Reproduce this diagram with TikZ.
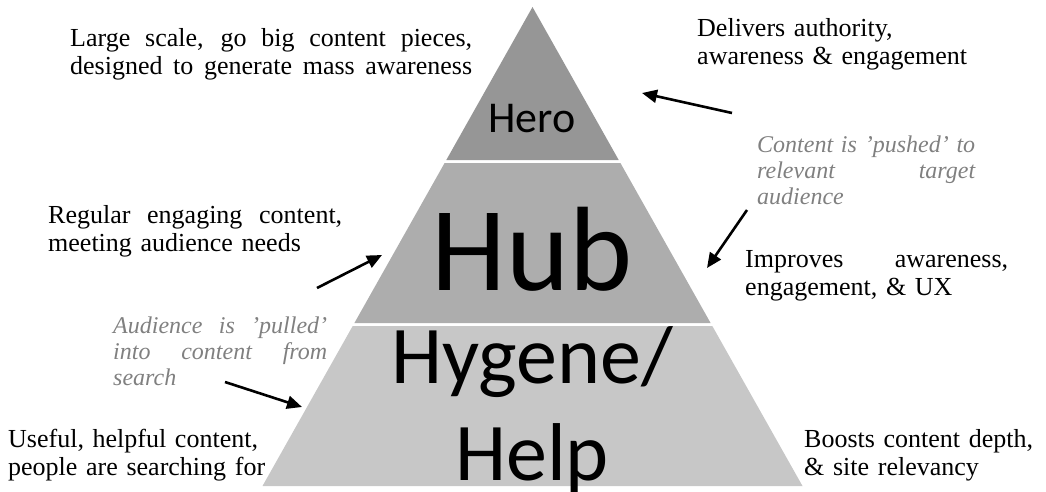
\documentclass[tikz,border=0pt]{standalone}
\usepackage{fontspec}
\setmainfont{Liberation Serif}
\newfontfamily\calibri{Carlito}
\usepackage{xcolor}
\usetikzlibrary{arrows.meta}

\definecolor{herogray}{RGB}{150,150,150}
\definecolor{hubgray}{RGB}{173,173,173}
\definecolor{helpgray}{RGB}{199,199,199}
\definecolor{notegray}{RGB}{128,128,128}

% one line spread over the full text width
\newcommand{\fullline}[1]{\leavevmode\hbox to\hsize{\spaceskip=0.25em plus 1fil\xspaceskip=\spaceskip #1}}

\tikzset{
  note/.style={anchor=base west, inner sep=0, align=left, font=\fontsize{26}{28}\selectfont},
  flow/.style={note, font=\fontsize{24}{26}\selectfont\itshape, text=notegray},
  tier/.style={anchor=base, inner sep=0, align=center},
  pointer/.style={line width=2.6pt, -{Triangle[length=15pt,width=13pt]}}
}

\begin{document}
\begin{tikzpicture}[x=1pt, y=-1pt]
\useasboundingbox (0,0) rectangle (1046,492);
% pyramid bands
\fill[herogray] (532.5,7) -- (618.7,160) -- (446.3,160) -- cycle;
\fill[hubgray] (444.6,163) -- (620.4,163) -- (710.6,323) -- (354.4,323) -- cycle;
\fill[helpgray] (352.7,326) -- (712.3,326) -- (802.5,486) -- (262.5,486) -- cycle;
\node[tier, font=\calibri\fontsize{44}{48}\selectfont] (hero) at (532,132) {Hero};
\node[tier, font=\calibri\fontsize{120}{120}\selectfont] (hub) at (532,290) {Hub};
\node[tier, font=\calibri\fontsize{82}{97}\selectfont] (help) at (532,480) {Hygene/\\Help};
% left side
\node[note, text width=402pt] (large) at (70,47) {\fullline{Large scale, go big content pieces,}\\\fullline{designed to generate mass awareness}};
\node[note, text width=294pt] (regular) at (48,223) {\fullline{Regular engaging content,}\\meeting audience needs};
\node[flow, text width=214pt] (pulled) at (113,333) {\fullline{Audience is ’pulled’}\\\fullline{into content from}\\search};
\node[note, text width=264pt] (useful) at (8,447) {Useful, helpful content,\\people are searching for};
% right side
\node[note, text width=280pt] (delivers) at (697,37) {Delivers authority,\\awareness \& engagement};
\node[flow, text width=218pt] (pushed) at (757,152) {\fullline{Content is ’pushed’ to}\\\fullline{relevant target}\\audience};
\node[note, text width=263pt] (improves) at (745,267) {\fullline{Improves awareness,}\\engagement, \& UX};
\node[note, text width=236pt] (boosts) at (804,447) {Boosts content depth,\\\& site relevancy};
% arrows
\coordinate (pushtail) at (732,113);
\coordinate (herotip) at (642,93);
\coordinate (pushdown) at (747,210);
\coordinate (hubtip) at (707,268);
\coordinate (pulltail) at (317,288);
\coordinate (hubleft) at (382,255);
\coordinate (searchtail) at (225,382);
\coordinate (helptip) at (302,407);
\draw[pointer] (pushtail) -- (herotip);
\draw[pointer] (pushdown) -- (hubtip);
\draw[pointer] (pulltail) -- (hubleft);
\draw[pointer] (searchtail) -- (helptip);
\end{tikzpicture}
\end{document}
